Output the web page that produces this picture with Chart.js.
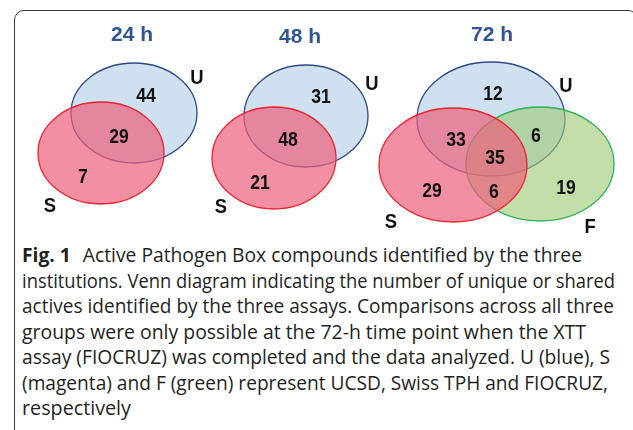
<!DOCTYPE html>
<html lang="en">
<head>
    <meta charset="UTF-8">
    <title>Fig. 1 - Active Pathogen Box compounds (Venn)</title>
    <script src="https://cdn.jsdelivr.net/npm/chart.js@4.4.0/dist/chart.umd.min.js"></script>
    <style>
        body {
            margin: 0;
            width: 633px;
            height: 430px;
            overflow: hidden;
            position: relative;
            background: #ffffff;
        }

        .frame {
            position: absolute;
            left: 14px;
            top: 10px;
            width: 622px;
            height: 440px;
            border: 1.3px solid #3a3a3a;
            border-radius: 10px;
        }

        .venn {
            position: absolute;
            left: 0;
            top: 0;
            width: 633px;
            height: 235px;
        }

        .caption {
            position: absolute;
            left: 22px;
            top: 242px;
            font-family: 'Open Sans', sans-serif;
            font-size: 19.5px;
            line-height: 25.5px;
            color: #231f20;
            white-space: nowrap;
        }

        .caption div {
            height: 25.5px;
        }

        .caption span {
            display: inline-block;
            transform-origin: 0 50%;
        }

        .caption b {
            font-weight: 700;
            margin-right: 7px;
        }
    </style>
</head>
<body>
    <div class="frame"></div>
    <div class="venn"><canvas id="venn"></canvas></div>
    <div class="caption" id="caption">
        <div><span><b>Fig. 1</b> Active Pathogen Box compounds identified by the three</span></div>
        <div><span>institutions. Venn diagram indicating the number of unique or shared</span></div>
        <div><span>actives identified by the three assays. Comparisons across all three</span></div>
        <div><span>groups were only possible at the 72-h time point when the XTT</span></div>
        <div><span>assay (FIOCRUZ) was completed and the data analyzed. U (blue), S</span></div>
        <div><span>(magenta) and F (green) represent UCSD, Swiss TPH and FIOCRUZ,</span></div>
        <div><span>respectively</span></div>
    </div>

    <script>
        // Panel titles and set names
        const panelTitles = ['24 h', '48 h', '72 h'];
        const setLetters = ['U', 'S', 'F'];

        // Region counts
        const regions24 = ['U only', 'U and S', 'S only'];
        const counts24 = [44, 29, 7];
        const regions48 = ['U only', 'U and S', 'S only'];
        const counts48 = [31, 48, 21];
        const regions72 = ['U only', 'U and S', 'U and F', 'U, S and F', 'S only', 'S and F', 'F only'];
        const counts72 = [12, 33, 6, 35, 29, 6, 19];

        const panelCounts = [counts24, counts48, counts72];
        const panelRegions = [regions24, regions48, regions72];

        // Layout in page pixels (x scale 0..633, y scale 0..235)
        const geometry = [
            {
                title: [132, 35],
                sets: { U: [134, 113, 63, 50], S: [101, 153, 63, 51] },
                letters: { U: [197, 78], S: [50, 206] },
                anchors: [[146, 95], [119, 136], [83, 176]]
            },
            {
                title: [300, 37],
                sets: { U: [306, 116, 62, 51], S: [274, 158, 62, 51] },
                letters: { U: [372, 84], S: [221, 207] },
                anchors: [[321, 96], [288, 139], [260, 182]]
            },
            {
                title: [492, 35],
                sets: { U: [491, 119, 74, 57], F: [540, 164, 74, 57], S: [453, 165, 74, 57] },
                letters: { U: [566, 86], S: [391, 222], F: [590, 227] },
                anchors: [[493, 93], [456, 139], [536, 135], [495, 157], [432, 190], [494, 191], [566, 187]]
            }
        ];

        const setStyle = {
            U: { fill: 'rgba(159, 193, 227, 0.5)', stroke: '#2e4a8c' },
            S: { fill: 'rgba(238, 95, 124, 0.7)', stroke: '#ec2430' },
            F: { fill: 'rgba(157, 200, 113, 0.6)', stroke: '#2db356' }
        };

        // one invisible scatter dataset per panel, its points are the region label anchors
        const datasets = panelCounts.map((counts, p) => ({
            label: panelTitles[p],
            data: geometry[p].anchors.map((a, i) => ({ x: a[0], y: a[1], count: counts[i], region: panelRegions[p][i] })),
            pointRadius: 0,
            pointHoverRadius: 0
        }));

        // narrow bold text, the figure uses a condensed face
        function narrowText(ctx, text, x, y, squeeze) {
            ctx.save();
            ctx.translate(x, y);
            ctx.scale(squeeze, 1);
            ctx.fillText(text, 0, 0);
            ctx.restore();
        }

        const vennPlugin = {
            id: 'venn',
            beforeDatasetsDraw(chart) {
                const ctx = chart.ctx;
                const xs = chart.scales.x;
                const ys = chart.scales.y;

                geometry.forEach((g, p) => {
                    Object.keys(g.sets).forEach(name => {
                        const [cx, cy, rx, ry] = g.sets[name];
                        const px = xs.getPixelForValue(cx);
                        const py = ys.getPixelForValue(cy);
                        const prx = Math.abs(xs.getPixelForValue(cx + rx) - px);
                        const pry = Math.abs(ys.getPixelForValue(cy + ry) - py);
                        ctx.save();
                        ctx.beginPath();
                        ctx.ellipse(px, py, prx, pry, 0, 0, Math.PI * 2);
                        ctx.fillStyle = setStyle[name].fill;
                        ctx.fill();
                        ctx.lineWidth = 1.3;
                        ctx.strokeStyle = setStyle[name].stroke;
                        ctx.stroke();
                        ctx.restore();
                    });

                    // panel title
                    ctx.save();
                    ctx.font = 'bold 21px "Liberation Sans", Arial, sans-serif';
                    ctx.fillStyle = '#2f5597';
                    ctx.textAlign = 'center';
                    ctx.textBaseline = 'middle';
                    ctx.fillText(panelTitles[p], xs.getPixelForValue(g.title[0]), ys.getPixelForValue(g.title[1]));

                    // set letters
                    ctx.font = 'bold 20px "Liberation Sans", Arial, sans-serif';
                    ctx.fillStyle = '#111111';
                    setLetters.forEach(letter => {
                        const pos = g.letters[letter];
                        if (!pos) return;
                        narrowText(ctx, letter, xs.getPixelForValue(pos[0]), ys.getPixelForValue(pos[1]), 0.92);
                    });
                    ctx.restore();
                });
            },
            afterDatasetsDraw(chart) {
                const ctx = chart.ctx;
                ctx.save();
                ctx.font = 'bold 20px "Liberation Sans", Arial, sans-serif';
                ctx.fillStyle = '#111111';
                ctx.textAlign = 'center';
                ctx.textBaseline = 'middle';
                chart.data.datasets.forEach((ds, i) => {
                    const meta = chart.getDatasetMeta(i);
                    meta.data.forEach((pt, j) => {
                        narrowText(ctx, String(ds.data[j].count), pt.x, pt.y + 1, 0.88);
                    });
                });
                ctx.restore();
            }
        };

        new Chart(document.getElementById('venn'), {
            type: 'scatter',
            data: { datasets },
            options: {
                responsive: true,
                maintainAspectRatio: false,
                animation: false,
                layout: { padding: 0 },
                plugins: {
                    legend: { display: false },
                    tooltip: { enabled: false }
                },
                events: [],
                scales: {
                    x: { type: 'linear', min: 0, max: 633, display: false },
                    y: { type: 'linear', min: 0, max: 235, reverse: true, display: false }
                }
            },
            plugins: [vennPlugin]
        });

        // the caption face is narrower than Open Sans: fit each line to where it ends in the figure
        const lineEnds = [582, 615, 614, 586, 610, 608, 131];
        const captionLeft = 22;
        document.querySelectorAll('#caption span').forEach((span, i) => {
            const w = span.getBoundingClientRect().width;
            span.style.transform = 'scaleX(' + ((lineEnds[i] - captionLeft) / w) + ')';
        });
    </script>
</body>
</html>
